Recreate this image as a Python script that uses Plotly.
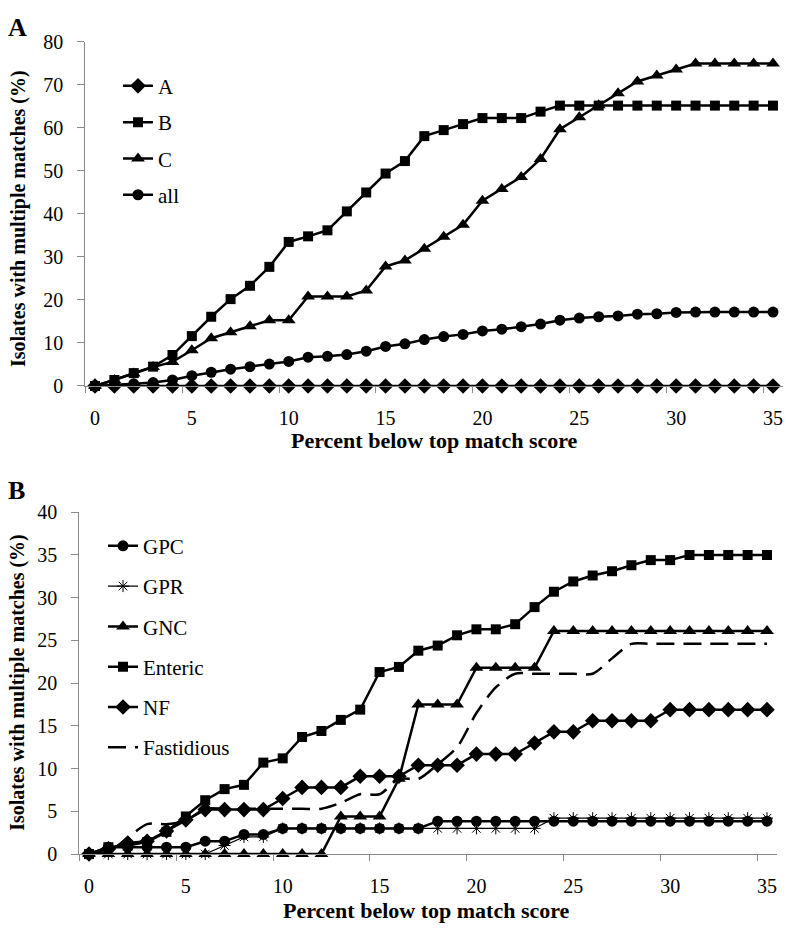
import plotly.graph_objects as go

# ---------------- data ----------------
x_vals = list(range(36))
x_tick_vals = [0, 5, 10, 15, 20, 25, 30, 35]
x_tick_marks = [-0.5, 4.5, 9.5, 14.5, 19.5, 24.5, 29.5, 34.5]

# Panel A
a_A = [0, 0, 0, 0, 0, 0, 0, 0, 0, 0, 0, 0, 0, 0, 0, 0, 0, 0,
       0, 0, 0, 0, 0, 0, 0, 0, 0, 0, 0, 0, 0, 0, 0, 0, 0, 0]
a_B = [0, 1.4, 3.0, 4.5, 7.2, 11.6, 16.1, 20.2, 23.3, 27.7,
       33.5, 34.8, 36.2, 40.6, 45.0, 49.4, 52.3, 58.1, 59.5, 60.9,
       62.3, 62.3, 62.3, 63.8, 65.2, 65.2, 65.2, 65.2, 65.2, 65.2,
       65.2, 65.2, 65.2, 65.2, 65.2, 65.2]
a_C = [0, 1.4, 2.9, 4.4, 5.6, 8.3, 11.1, 12.5, 13.9, 15.3,
       15.3, 20.8, 20.8, 20.8, 22.2, 27.8, 29.2, 31.9, 34.7, 37.5,
       43.1, 45.8, 48.6, 52.8, 59.7, 62.5, 65.3, 68.1, 70.8, 72.2,
       73.6, 75.0, 75.0, 75.0, 75.0, 75.0]
a_all = [0, 0.2, 0.5, 0.8, 1.4, 2.4, 3.2, 3.9, 4.5, 5.1,
         5.7, 6.7, 6.9, 7.3, 8.1, 9.2, 9.8, 10.8, 11.5, 12.0,
         12.8, 13.2, 13.8, 14.4, 15.3, 15.8, 16.1, 16.3, 16.7, 16.8,
         17.1, 17.2, 17.2, 17.2, 17.2, 17.2]

# Panel B
b_GPC = [0, 0.8, 0.8, 0.8, 0.8, 0.8, 1.5, 1.5, 2.3, 2.3,
         3.0, 3.0, 3.0, 3.0, 3.0, 3.0, 3.0, 3.0, 3.85, 3.85,
         3.85, 3.85, 3.85, 3.85, 3.85, 3.85, 3.85, 3.85, 3.85, 3.85,
         3.85, 3.85, 3.85, 3.85, 3.85, 3.85]
b_GPR = [0, 0, 0, 0, 0, 0, 0, 1.0, 2.0, 2.0,
         3.0, 3.0, 3.0, 3.0, 3.0, 3.0, 3.0, 3.0, 3.0, 3.0,
         3.0, 3.0, 3.0, 3.0, 4.2, 4.2, 4.2, 4.2, 4.2, 4.2,
         4.2, 4.2, 4.2, 4.2, 4.2, 4.2]
b_GNC = [0, 0, 0, 0, 0, 0, 0, 0, 0, 0,
         0, 0, 0, 4.4, 4.4, 4.4, 8.8, 17.5, 17.5, 17.5,
         21.8, 21.8, 21.8, 21.8, 26.1, 26.1, 26.1, 26.1, 26.1, 26.1,
         26.1, 26.1, 26.1, 26.1, 26.1, 26.1]
b_Enteric = [0, 0.8, 1.0, 1.4, 2.6, 4.4, 6.3, 7.6, 8.1, 10.7,
             11.2, 13.7, 14.4, 15.7, 16.9, 21.3, 21.9, 23.8, 24.4, 25.6,
             26.3, 26.3, 26.9, 28.9, 30.7, 31.9, 32.6, 33.1, 33.8, 34.4,
             34.4, 35.0, 35.0, 35.0, 35.0, 35.0]
b_NF = [0, 0.6, 1.3, 1.5, 2.7, 4.0, 5.2, 5.2, 5.2, 5.2,
        6.5, 7.8, 7.8, 7.8, 9.1, 9.1, 9.1, 10.4, 10.4, 10.4,
        11.7, 11.7, 11.7, 13.0, 14.3, 14.3, 15.6, 15.6, 15.6, 15.6,
        16.9, 16.9, 16.9, 16.9, 16.9, 16.9]
b_Fastidious = [0, 0.3, 1.9, 3.5, 3.5, 3.9, 5.3, 5.3, 5.3, 5.3,
                5.3, 5.3, 5.3, 6.0, 7.0, 7.0, 8.8, 8.8, 10.5, 12.5,
                16.5, 19.5, 21.1, 21.1, 21.1, 21.1, 21.1, 22.9, 24.6, 24.6,
                24.6, 24.6, 24.6, 24.6, 24.6, 24.6]

FONT = "Times New Roman, Liberation Serif, DejaVu Serif, serif"
AXIS_GRAY = "#8a8a8a"
W, H = 786, 938

fig = go.Figure()


def add(y, name, symbol, size, xa, ya, legend, lw=2.5, dash=None, shape="linear", mlw=0):
    line = dict(color="black", width=lw, shape=shape)
    if dash:
        line["dash"] = dash
    if shape == "spline":
        line["smoothing"] = 0.8
    mode = "lines" if symbol is None else "lines+markers"
    marker = dict(color="black", size=size, symbol=symbol or "circle",
                  line=dict(color="black", width=mlw))
    fig.add_trace(go.Scatter(x=x_vals, y=y, name=name, mode=mode, line=line,
                             marker=marker, xaxis=xa, yaxis=ya, legend=legend,
                             legendgroup=legend + name, cliponaxis=False))


add(a_A, "A", "diamond", 12, "x", "y", "legend")
add(a_B, "B", "square", 10, "x", "y", "legend")
add(a_C, "C", "triangle-up", 12, "x", "y", "legend")
add(a_all, "all", "circle", 11, "x", "y", "legend")

add(b_GPC, "GPC", "circle", 11, "x2", "y2", "legend2")
add(b_GPR, "GPR", "asterisk-open", 10, "x2", "y2", "legend2", lw=1.2, mlw=1)
add(b_GNC, "GNC", "triangle-up", 12, "x2", "y2", "legend2")
add(b_Enteric, "Enteric", "square", 10, "x2", "y2", "legend2")
add(b_NF, "NF", "diamond", 12, "x2", "y2", "legend2")
add(b_Fastidious, "Fastidious", None, 0, "x2", "y2", "legend2",
    lw=2.5, dash="18px,9px", shape="spline")


def px_x(p):
    return p / W


def px_y(p):
    return 1 - p / H


xaxis_common = dict(
    range=[-0.5, 35.5], tickvals=x_tick_vals, ticks="", showline=True,
    linecolor=AXIS_GRAY, linewidth=1.3, showgrid=False, zeroline=False,
    tickfont=dict(family=FONT, size=20, color="black"), ticklabelstandoff=14,
    minor=dict(tickvals=x_tick_marks, ticks="outside", ticklen=6,
               tickcolor=AXIS_GRAY, tickwidth=1.3, showgrid=False),
)
yaxis_common = dict(
    showline=True, linecolor=AXIS_GRAY, linewidth=1.3, showgrid=False,
    zeroline=False, ticks="outside", ticklen=7, tickcolor=AXIS_GRAY,
    tickwidth=1.3, tickfont=dict(family=FONT, size=20, color="black"),
    ticklabelstandoff=10,
)

fig.update_layout(
    width=W, height=H, margin=dict(l=0, r=0, t=0, b=0),
    paper_bgcolor="white", plot_bgcolor="white",
    font=dict(family=FONT, color="black"),
    xaxis=dict(domain=[px_x(85.3), px_x(782.7)], anchor="y", **xaxis_common),
    yaxis=dict(domain=[px_y(384), px_y(31.7)], range=[0, 80], dtick=10,
               anchor="x", **yaxis_common),
    xaxis2=dict(domain=[px_x(79.3), px_x(776.7)], anchor="y2", **xaxis_common),
    yaxis2=dict(domain=[px_y(863.3), px_y(513.3)], range=[0, 40], dtick=5,
                anchor="x2", **yaxis_common),
    legend=dict(x=px_x(118), y=px_y(56), xanchor="left", yanchor="top",
                font=dict(family=FONT, size=21, color="black"),
                bgcolor="rgba(0,0,0,0)", tracegroupgap=6, itemwidth=30),
    legend2=dict(x=px_x(103), y=px_y(527), xanchor="left", yanchor="top",
                 font=dict(family=FONT, size=21, color="black"),
                 bgcolor="rgba(0,0,0,0)", tracegroupgap=10, itemwidth=30),
    showlegend=True,
)

ann_font_b = dict(family=FONT, size=22, color="black")
annotations = [
    dict(text="<b>A</b>", x=px_x(17), y=px_y(17), font=dict(family=FONT, size=26, color="black")),
    dict(text="<b>B</b>", x=px_x(16), y=px_y(491), font=dict(family=FONT, size=26, color="black")),
    dict(text="<b>Isolates with multiple matches (%)</b>", x=px_x(18), y=px_y(213),
         textangle=-90, font=dict(family=FONT, size=20, color="black")),
    dict(text="<b>Isolates with multiple matches (%)</b>", x=px_x(18), y=px_y(688),
         textangle=-90, font=dict(family=FONT, size=20, color="black")),
    dict(text="<b>Percent below top match score</b>", x=px_x(434), y=px_y(440), font=ann_font_b),
    dict(text="<b>Percent below top match score</b>", x=px_x(426), y=px_y(921), font=ann_font_b),
]
for a in annotations:
    a.update(xref="paper", yref="paper", showarrow=False, xanchor="center", yanchor="middle")
fig.update_layout(annotations=annotations)

# remove the browser's default 8px page margin so the 786x938 figure fills the window
fig.write_html("out.html",
               config={"displayModeBar": False},
               post_script="document.body.style.margin='0';document.body.style.overflow='hidden';")
